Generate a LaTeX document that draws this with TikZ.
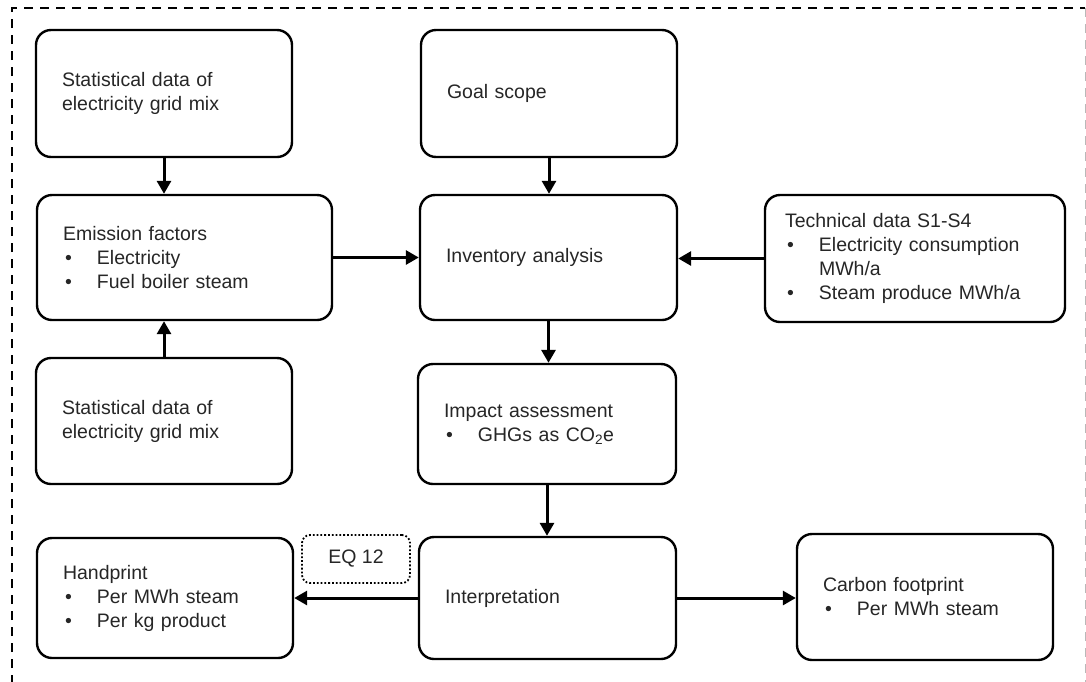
\documentclass[tikz,border=0pt]{standalone}
\usepackage{fontspec}
\setmainfont{Liberation Sans}
\usetikzlibrary{arrows.meta}
\newcommand{\itm}[1]{\makebox[34pt][l]{\hspace{2pt}\textbullet}#1}
\begin{document}
\begin{tikzpicture}[x=1pt,y=-1pt,
  box/.style={draw, line width=2.4pt, rounded corners=15pt, inner xsep=26pt,
    inner ysep=0pt, align=left, text=black!85,
    font=\fontsize{19.5}{24}\selectfont},
  bx/.style 2 args={box, text width=#1, minimum height=#2},
  arr/.style={line width=3pt, -{Triangle[length=13pt,width=14pt]}},
  eqbox/.style={draw, line width=1.8pt, dotted, rounded corners=8pt,
    minimum width=108pt, minimum height=48pt, inner sep=0pt, text=black!85,
    font=\fontsize{19.5}{24}\selectfont}]
\useasboundingbox (0,0) rectangle (1086,681);
\clip (0,0) rectangle (1086,681);

% frame
\draw[line width=1.6pt, dash pattern=on 9pt off 7pt] (12,700) -- (12,8) -- (1085,8);
\draw[line width=1pt, gray!55, dash pattern=on 9pt off 7pt] (1085,8) -- (1085,700);

% boxes
\node[bx={204pt}{127pt}] (statA) at (164,93.5) {Statistical data of\\electricity grid mix};
\node[bx={204pt}{127pt}] (goal) at (549,93.5) {Goal scope};
\node[bx={243pt}{125pt}] (emis) at (184.5,257.5) {Emission factors\\\itm{Electricity}\\\itm{Fuel boiler steam}};
\node[bx={205pt}{125pt}] (inv) at (548.5,257.5) {Inventory analysis};
\node[bx={260pt}{127pt}, inner xsep=20pt] (tech) at (915,258.5)
  {Technical data S1-S4\\\itm{Electricity consumption}\\\hspace*{34pt}MWh/a\\\itm{Steam produce MWh/a}};
\node[bx={204pt}{126pt}] (statB) at (164,421) {Statistical data of\\electricity grid mix};
\node[bx={206pt}{120pt}] (imp) at (547,424) {Impact assessment\\\itm{GHGs as CO\textsubscript{2}e}};
\node[bx={204pt}{120pt}] (hand) at (165,598) {Handprint\\\itm{Per MWh steam}\\\itm{Per kg product}};
\node[bx={205pt}{122pt}] (interp) at (547.5,598) {Interpretation};
\node[bx={204pt}{126pt}] (carbon) at (925,597) {Carbon footprint\\\itm{Per MWh steam}};
\node[eqbox] (eq) at (356,559) {EQ 12};

% connectors
\draw[arr] (statA.south) -- (statA.south |- emis.north);
\draw[arr] (statB.north) -- (statB.north |- emis.south);
\draw[arr] (goal.south) -- (goal.south |- inv.north);
\draw[arr] (emis.east) -- (emis.east -| inv.west);
\draw[arr] (tech.west) -- (tech.west -| inv.east);
\draw[arr] (inv.south) -- (inv.south |- imp.north);
\draw[arr] (imp.south) -- (imp.south |- interp.north);
\draw[arr] (interp.west) -- (interp.west -| hand.east);
\draw[arr] (interp.east) -- (interp.east -| carbon.west);
\end{tikzpicture}
\end{document}
